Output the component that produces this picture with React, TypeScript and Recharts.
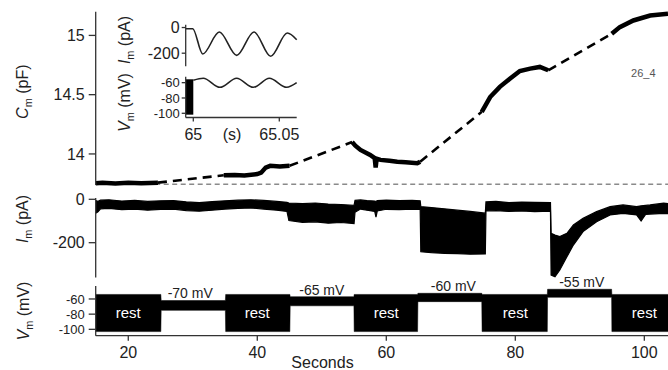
import React from 'react';
import {
  ComposedChart,
  Line,
  Area,
  XAxis,
  YAxis,
  ReferenceLine,
  ReferenceDot,
  ReferenceArea,
} from 'recharts';

// ---------- tick values ----------
const secondsTicks = [20, 40, 60, 80, 100];
const cmTicks = [14, 14.5, 15];
const imTicks = [0, -200];
const vmTicks = [-60, -80, -100];
const insetImTicks = [0, -200];
const insetVmTicks = [-60, -80, -100];
const insetTimeTicks = [65, 65.05];

// ---------- membrane capacitance (pF) ----------
const cmTrace = [
  { t: 14.95, v: 13.752 }, { t: 16, v: 13.756 }, { t: 18, v: 13.751 }, { t: 20, v: 13.757 },
  { t: 22, v: 13.753 }, { t: 24.6, v: 13.758 },
  { t: 30, v: null },
  { t: 34.8, v: 13.82 }, { t: 36.5, v: 13.823 }, { t: 38, v: 13.818 }, { t: 40, v: 13.83 },
  { t: 40.6, v: 13.842 }, { t: 41.3, v: 13.885 }, { t: 42, v: 13.9 }, { t: 43.5, v: 13.894 },
  { t: 45, v: 13.9 },
  { t: 50, v: null },
  { t: 54.7, v: 14.1 }, { t: 55.2, v: 14.07 }, { t: 56, v: 14.034 }, { t: 57.5, v: 13.992 },
  { t: 58.2, v: 13.965 }, { t: 58.35, v: 13.885 }, { t: 58.5, v: 13.96 }, { t: 59.1, v: 13.95 },
  { t: 60.5, v: 13.942 }, { t: 61.7, v: 13.935 }, { t: 63, v: 13.93 }, { t: 64.8, v: 13.922 },
  { t: 65.25, v: 13.935 },
  { t: 70, v: null },
  { t: 74.8, v: 14.355 }, { t: 76.1, v: 14.48 }, { t: 77.6, v: 14.566 }, { t: 79.2, v: 14.636 },
  { t: 80.7, v: 14.7 }, { t: 82.3, v: 14.72 }, { t: 83.8, v: 14.734 }, { t: 85.1, v: 14.706 },
  { t: 90, v: null },
  { t: 94.95, v: 15.014 }, { t: 96.2, v: 15.07 }, { t: 98.3, v: 15.126 }, { t: 100.9, v: 15.168 },
  { t: 103.67, v: 15.182 },
];

const cmGaps = [
  { t: 24.6, v: 13.758 }, { t: 34.8, v: 13.82 }, { t: 40, v: null },
  { t: 45, v: 13.9 }, { t: 54.7, v: 14.1 }, { t: 60, v: null },
  { t: 65.25, v: 13.935 }, { t: 74.8, v: 14.355 }, { t: 80, v: null },
  { t: 85.1, v: 14.706 }, { t: 94.95, v: 15.014 },
];

const cmBaseline = 13.744;

// ---------- membrane current envelope (pA): [low, high] ----------
const imTrace = [
  { t: 14.95, im: [-64, -6] }, { t: 15.3, im: [-58, -9] }, { t: 15.7, im: [-44, -4] },
  { t: 17, im: [-42, -2] }, { t: 19, im: [-48, -8] }, { t: 21, im: [-45, -5] },
  { t: 23, im: [-50, -10] }, { t: 25, im: [-46, -7] }, { t: 27, im: [-45, -6] },
  { t: 29, im: [-52, -12] }, { t: 31, im: [-55, -15] }, { t: 33, im: [-50, -11] },
  { t: 35, im: [-45, -7] }, { t: 37, im: [-42, -4] }, { t: 39, im: [-40, -2] },
  { t: 41, im: [-45, -5] }, { t: 43, im: [-50, -10] }, { t: 44.6, im: [-56, -14] },
  { t: 44.9, im: [-98, -17] }, { t: 47, im: [-106, -20] }, { t: 49, im: [-104, -17] },
  { t: 51, im: [-110, -22] }, { t: 53, im: [-107, -24] }, { t: 55, im: [-112, -28] },
  { t: 55.15, im: [-60, -5] }, { t: 56, im: [-45, -3] }, { t: 57, im: [-50, -6] },
  { t: 58.2, im: [-56, -8] }, { t: 58.4, im: [-82, -10] }, { t: 58.6, im: [-54, -6] },
  { t: 60, im: [-46, -4] }, { t: 62, im: [-48, -6] }, { t: 64, im: [-45, -5] },
  { t: 65.25, im: [-46, -7] },
  { t: 65.35, im: [-242, -34] }, { t: 67, im: [-246, -38] }, { t: 69, im: [-249, -44] },
  { t: 71, im: [-250, -50] }, { t: 73, im: [-253, -56] }, { t: 75.35, im: [-252, -64] },
  { t: 75.45, im: [-54, -12] }, { t: 77, im: [-52, -10] }, { t: 79, im: [-56, -15] },
  { t: 81, im: [-54, -13] }, { t: 83, im: [-57, -14] }, { t: 85.45, im: [-55, -15] },
  { t: 85.55, im: [-349, -157] }, { t: 86.15, im: [-357, -165] }, { t: 86.9, im: [-326, -172] },
  { t: 88, im: [-265, -157] }, { t: 89, im: [-211, -118] }, { t: 90.5, im: [-149, -88] },
  { t: 92.6, im: [-103, -57] }, { t: 94.7, im: [-72, -34] }, { t: 96.7, im: [-65, -26] },
  { t: 98.8, im: [-72, -34] }, { t: 99.5, im: [-100, -30] }, { t: 100.2, im: [-70, -28] },
  { t: 100.9, im: [-68, -26] }, { t: 103, im: [-65, -18] }, { t: 103.67, im: [-66, -20] },
];

// ---------- membrane potential envelope (mV): [low, high] ----------
const vmTrace = [
  { t: 14.95, vm: [-103, -54] }, { t: 25.05, vm: [-103, -54] },
  { t: 25.1, vm: [-75, -62] }, { t: 35.05, vm: [-75, -62] },
  { t: 35.1, vm: [-103, -54] }, { t: 45.05, vm: [-103, -54] },
  { t: 45.1, vm: [-69, -57] }, { t: 54.98, vm: [-69, -57] },
  { t: 55.02, vm: [-103, -54] }, { t: 64.85, vm: [-103, -54] },
  { t: 64.9, vm: [-63.5, -52.5] }, { t: 74.8, vm: [-63.5, -52.5] },
  { t: 74.85, vm: [-103, -54] }, { t: 84.96, vm: [-103, -54] },
  { t: 85.0, vm: [-57.8, -47.2] }, { t: 94.93, vm: [-57.8, -47.2] },
  { t: 94.97, vm: [-103, -54] }, { t: 103.67, vm: [-103, -54] },
];

const restTimes = [20, 40, 60, 80, 100];
const restText = 'rest';
const holdTexts = ['-70 mV', '-65 mV', '-60 mV', '-55 mV'];

// ---------- inset (t in s) ----------
const insetIm = [
  { t: 64.99576, im: -9 }, { t: 64.99965, im: -9 }, { t: 65.00547, im: -206 },
  { t: 65.01512, im: -35 }, { t: 65.02523, im: -217 }, { t: 65.03529, im: -35 },
  { t: 65.045, im: -224 }, { t: 65.05465, im: -43 }, { t: 65.06012, im: -95 },
];
const insetVm = [
  { t: 65.0, vm: -56.9 }, { t: 65.0058, vm: -54.25 }, { t: 65.0155, vm: -66 },
  { t: 65.0252, vm: -54.25 }, { t: 65.0349, vm: -66 }, { t: 65.0442, vm: -54.25 },
  { t: 65.0543, vm: -66 }, { t: 65.0601, vm: -60 },
];
const insetRest = { t0: 64.99576, t1: 65.0, lo: -101.8, hi: -55.6 };

// ---------- layout / style ----------
const FONT = '"Liberation Sans", Arial, Helvetica, sans-serif';
const AX = '#333';
const TXT = '#222';
const X_DOMAIN: [number, number] = [14.95, 103.67];
const INSET_X: [number, number] = [64.99558, 65.06012];
const holdPos = [
  { t: 29.6, v: -52.5 },
  { t: 50.0, v: -48.2 },
  { t: 70.4, v: -42.9 },
  { t: 90.3, v: -37.2 },
];
const restV = -78;

const yAxisCommon = {
  type: 'number' as const,
  width: 60,
  tickSize: 7,
  tickMargin: 4,
  interval: 0 as const,
  axisLine: { stroke: AX, strokeWidth: 1.3 },
  tickLine: { stroke: AX, strokeWidth: 1.3 },
  tick: { fill: TXT, fontSize: 16 },
};

const denseYAxis = {
  ...yAxisCommon,
  tick: { fill: TXT, fontSize: 13 },
};

const insetYAxis = {
  ...yAxisCommon,
  tickSize: 4,
  tickMargin: 2,
};

const insetDenseYAxis = {
  ...insetYAxis,
  tick: { fill: TXT, fontSize: 13 },
};

function RotLabel({ x, y, main, unit, size = 16 }: { x: number; y: number; main: string; unit: string; size?: number }) {
  return (
    <text transform={`translate(${x},${y}) rotate(-90)`} textAnchor="middle" fontSize={size} fill={TXT}>
      <tspan fontStyle="italic">{main}</tspan>
      <tspan fontSize={size * 0.68} dy={4}>m</tspan>
      <tspan dy={-4}>{` (${unit})`}</tspan>
    </text>
  );
}

export default function App() {
  return (
    <div style={{ position: 'absolute', left: 0, top: 0, width: 668, height: 370, fontFamily: FONT, background: '#fff' }}>
      {/* Cm panel */}
      <div style={{ position: 'absolute', left: 0, top: 0 }}>
        <ComposedChart width={668} height={190} margin={{ top: 11.7, right: 0, bottom: 5, left: 35.7 }}>
          <XAxis type="number" dataKey="t" domain={X_DOMAIN} hide />
          <YAxis {...yAxisCommon} domain={[13.738, 15.2]} ticks={cmTicks} />
          <ReferenceLine y={cmBaseline} stroke="#8a8a8a" strokeWidth={1.5} strokeDasharray="5 3.5" />
          <Line data={cmGaps} dataKey="v" type="linear" stroke="#000" strokeWidth={2.6} strokeDasharray="9 6" dot={false} isAnimationActive={false} />
          <Line data={cmTrace} dataKey="v" type="linear" stroke="#000" strokeWidth={4.5} dot={false} isAnimationActive={false} />
        </ComposedChart>
      </div>

      {/* Im panel */}
      <div style={{ position: 'absolute', left: 0, top: 190 }}>
        <ComposedChart width={668} height={95} data={imTrace} margin={{ top: 8, right: 0, bottom: 7.6, left: 35.7 }}>
          <XAxis type="number" dataKey="t" domain={X_DOMAIN} hide />
          <YAxis {...yAxisCommon} domain={[-360, 6]} ticks={imTicks} />
          <Area dataKey="im" type="linear" stroke="#000" strokeWidth={1.2} fill="#000" fillOpacity={1} isAnimationActive={false} />
        </ComposedChart>
      </div>

      {/* Vm panel */}
      <div style={{ position: 'absolute', left: 0, top: 270 }}>
        <ComposedChart width={668} height={100} data={vmTrace} margin={{ top: 16, right: 0, bottom: 0, left: 35.7 }}>
          <XAxis
            type="number"
            dataKey="t"
            domain={X_DOMAIN}
            ticks={secondsTicks}
            interval={0}
            height={34.3}
            tickSize={5}
            tickMargin={6}
            axisLine={{ stroke: AX, strokeWidth: 1.3 }}
            tickLine={{ stroke: AX, strokeWidth: 1.3 }}
            tick={{ fill: TXT, fontSize: 16 }}
          />
          <YAxis {...denseYAxis} domain={[-108.4, -42.9]} ticks={vmTicks} />
          <Area dataKey="vm" type="linear" stroke="#000" strokeWidth={0.5} fill="#000" fillOpacity={1} isAnimationActive={false} />
          {restTimes.map((t) => (
            <ReferenceDot key={`r${t}`} x={t} y={restV} r={0} fill="none" stroke="none" ifOverflow="visible"
              label={{ value: restText, position: 'center', fill: '#fff', fontSize: 15 }} />
          ))}
          {holdTexts.map((s, i) => (
            <ReferenceDot key={s} x={holdPos[i].t} y={holdPos[i].v} r={0} fill="none" stroke="none" ifOverflow="visible"
              label={{ value: s, position: 'center', fill: TXT, fontSize: 14 }} />
          ))}
        </ComposedChart>
      </div>

      {/* inset Im */}
      <div style={{ position: 'absolute', left: 0, top: 0 }}>
        <ComposedChart width={310} height={80} data={insetIm} margin={{ top: 24.7, right: 13.3, bottom: 13.7, left: 125.7 }}>
          <XAxis type="number" dataKey="t" domain={INSET_X} hide />
          <YAxis {...insetYAxis} domain={[-302, 22]} ticks={insetImTicks} />
          <Line dataKey="im" type="monotone" stroke="#222" strokeWidth={1.6} dot={false} isAnimationActive={false} />
        </ComposedChart>
      </div>

      {/* inset Vm */}
      <div style={{ position: 'absolute', left: 0, top: 60 }}>
        <ComposedChart width={310} height={87.5} data={insetVm} margin={{ top: 16.7, right: 13.3, bottom: 0, left: 125.7 }}>
          <XAxis
            type="number"
            dataKey="t"
            domain={INSET_X}
            ticks={insetTimeTicks}
            interval={0}
            height={30}
            tickSize={4}
            tickMargin={7}
            axisLine={{ stroke: AX, strokeWidth: 1.3 }}
            tickLine={{ stroke: AX, strokeWidth: 1.3 }}
            tick={{ fill: TXT, fontSize: 16 }}
          />
          <YAxis {...insetDenseYAxis} domain={[-105.5, -52.2]} ticks={insetVmTicks} />
          <ReferenceArea x1={insetRest.t0} x2={insetRest.t1} y1={insetRest.lo} y2={insetRest.hi}
            fill="#000" fillOpacity={1} stroke="none" ifOverflow="visible" />
          <Line dataKey="vm" type="monotone" stroke="#222" strokeWidth={1.6} dot={false} isAnimationActive={false} />
        </ComposedChart>
      </div>

      {/* axis titles & annotations */}
      <svg width={668} height={370} style={{ position: 'absolute', left: 0, top: 0, pointerEvents: 'none' }}>
        <RotLabel x={28} y={91.7} main="C" unit="pF" />
        <RotLabel x={28} y={219} main="I" unit="pA" />
        <RotLabel x={29} y={311} main="V" unit="mV" />
        <RotLabel x={130} y={40} main="I" unit="pA" />
        <RotLabel x={130} y={102.5} main="V" unit="mV" />
        <text x={322.5} y={368} textAnchor="middle" fontSize={16} fill={TXT}>Seconds</text>
        <text x={232} y={140} textAnchor="middle" fontSize={16} fill={TXT}>(s)</text>
        <text x={643.3} y={77} textAnchor="middle" fontSize={11} fill="#555">26_4</text>
      </svg>
    </div>
  );
}
